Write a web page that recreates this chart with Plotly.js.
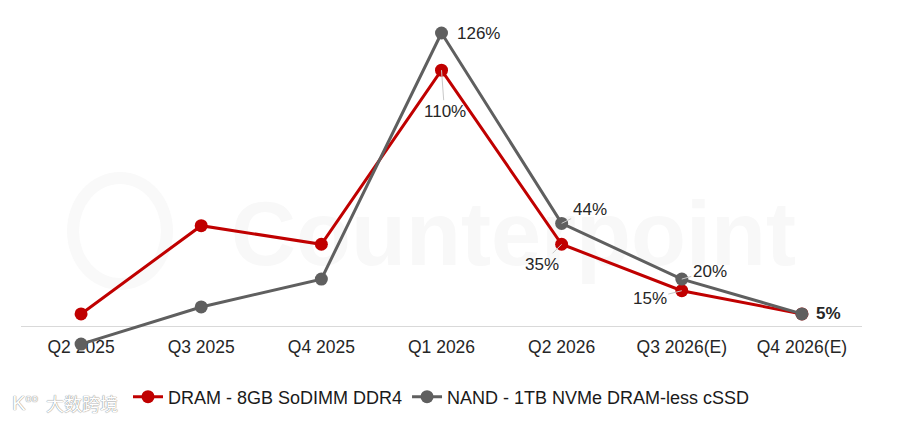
<!DOCTYPE html>
<html>
<head>
<meta charset="utf-8">
<script src="https://cdn.plot.ly/plotly-3.0.1.min.js"></script>
<style>
html,body{margin:0;padding:0;background:#fff;}
#wrap{position:relative;width:900px;height:421px;overflow:hidden;}
#chart{position:absolute;left:0;top:0;width:900px;height:421px;}
.wm{position:absolute;white-space:nowrap;pointer-events:none;}
#wmText{left:231px;top:183px;font-family:"Liberation Sans",Arial,sans-serif;font-weight:bold;font-size:90px;color:#F8F8F8;}
#wmCircle{left:67px;top:172px;width:82px;height:94px;border:12px solid #F9F9F9;border-radius:50%;}
#wmCn{left:82px;top:403px;transform:translate(-50%,-50%);font-family:"Noto Sans CJK SC",sans-serif;font-size:18px;color:#fff;text-shadow:0 0 1px #8a8a8a,0 0 1px #8a8a8a;z-index:2;}
#wmLogo{left:25px;top:403px;transform:translate(-50%,-50%);font-family:"Liberation Sans",Arial,sans-serif;font-size:20px;color:#fff;text-shadow:0 0 1px #8a8a8a,0 0 1px #8a8a8a;z-index:2;}
</style>
</head>
<body>
<div id="wrap">
  <div class="wm" id="wmCircle"></div>
  <div class="wm" id="wmText">Counterpoint</div>
  <div id="chart"></div>
  <div class="wm" id="wmLogo">K<sup style="font-size:11px">oo</sup></div>
  <div class="wm" id="wmCn">大数跨境</div>
</div>
<script>
var categories = ["Q2 2025", "Q3 2025", "Q4 2025", "Q1 2026", "Q2 2026", "Q3 2026(E)", "Q4 2026(E)"];
var dramName = "DRAM - 8GB SoDIMM DDR4";
var nandName = "NAND - 1TB NVMe DRAM-less cSSD";
var dramValues = [5, 43, 35, 110, 35, 15, 5];
var nandValues = [-8, 8, 20, 126, 44, 20, 5];

var RED = "#C00000";
var GREY = "#5F5F5F";
var FONT = "Liberation Sans, Arial, sans-serif";

var traces = [
  {
    x: categories, y: dramValues, name: dramName, type: "scatter", mode: "lines+markers",
    line: {color: RED, width: 3}, marker: {color: RED, size: 13}, cliponaxis: false
  },
  {
    x: categories, y: nandValues, name: nandName, type: "scatter", mode: "lines+markers",
    line: {color: GREY, width: 3}, marker: {color: GREY, size: 13}, cliponaxis: false
  }
];

// label placement (style only): index -> offsets
var dramLabels = {3: {ax: 3, ay: 41}, 4: {ax: -20, ay: 20}, 5: {ax: -32, ay: 8}};
var nandLabels = {3: {xshift: 37}, 4: {ax: 28, ay: -14}, 5: {ax: 28, ay: -8}, 6: {xshift: 27, bold: true}};

var annotations = [];
function addLabels(values, spec) {
  Object.keys(spec).forEach(function (k) {
    var i = +k, s = spec[k];
    var txt = values[i] + "%";
    var a = {
      x: categories[i], y: values[i], xref: "x", yref: "y",
      text: s.bold ? "<b>" + txt + "</b>" : txt,
      font: {family: FONT, size: 17, color: "#262626"}
    };
    if (s.xshift !== undefined) {
      a.showarrow = false; a.xshift = s.xshift; a.yshift = 0;
    } else {
      a.showarrow = true; a.ax = s.ax; a.ay = s.ay; a.arrowhead = 0;
      a.arrowwidth = 1; a.arrowcolor = "#C8C8C8"; a.standoff = 0;
    }
    annotations.push(a);
  });
}
addLabels(dramValues, dramLabels);
addLabels(nandValues, nandLabels);

var layout = {
  width: 900, height: 421,
  margin: {l: 21, r: 38, t: 20, b: 56},
  paper_bgcolor: "rgba(0,0,0,0)", plot_bgcolor: "rgba(0,0,0,0)",
  showlegend: true,
  xaxis: {
    type: "category", range: [-0.5, 6.5], anchor: "free", position: 17 / 148.6,
    showline: true, linecolor: "#D9D9D9", linewidth: 1, showgrid: false, zeroline: false,
    ticks: "", ticklabelstandoff: 5, layer: "below traces",
    tickfont: {family: FONT, size: 17.5, color: "#262626"}, fixedrange: true
  },
  yaxis: {
    range: [-17, 131.6], visible: false, showgrid: false, zeroline: false, fixedrange: true
  },
  legend: {
    orientation: "h", x: 0.5, xanchor: "center", yref: "container", y: 0.057, yanchor: "middle",
    font: {family: FONT, size: 18, color: "#1A1A1A"}, bgcolor: "rgba(0,0,0,0)"
  },
  annotations: annotations
};

Plotly.newPlot("chart", traces, layout, {displayModeBar: false, staticPlot: true});
</script>
</body>
</html>
